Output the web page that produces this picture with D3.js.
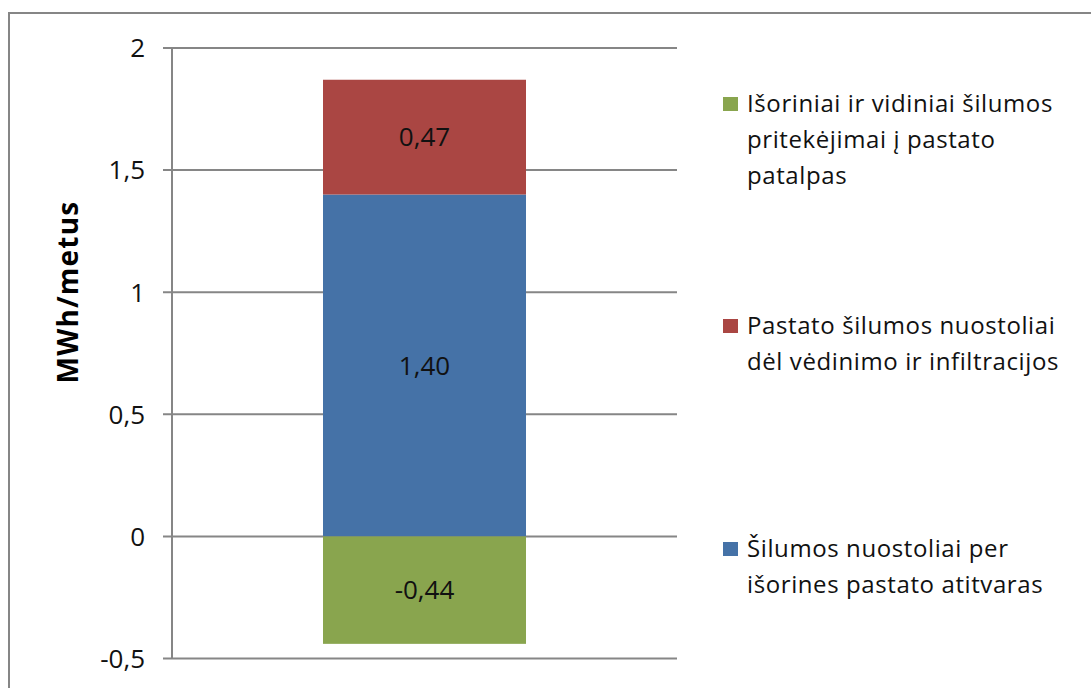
<!DOCTYPE html>
<html><head><meta charset="utf-8">
<script src="https://cdn.jsdelivr.net/npm/d3@7"></script>
<style>body{margin:0;background:#fff;} svg{display:block;font-family:"Open Sans",Lato,sans-serif;}</style>
</head><body>
<svg id="c" width="1091" height="688"></svg>
<script>
const categories = ["1"];
const seriesNames = [
  "Šilumos nuostoliai per išorines pastato atitvaras",
  "Pastato šilumos nuostoliai dėl vėdinimo ir infiltracijos",
  "Išoriniai ir vidiniai šilumos pritekėjimai į pastato patalpas"
];
const seriesValues = [1.40, 0.47, -0.44];
const seriesColors = ["#4572A7", "#AA4643", "#89A54E"];
const valueLabels = ["1,40", "0,47", "-0,44"];
const tickValues = [-0.5, 0, 0.5, 1, 1.5, 2];
const tickLabels = ["-0,5", "0", "0,5", "1", "1,5", "2"];
const legendLines = [
  ["Išoriniai ir vidiniai šilumos", "pritekėjimai į pastato", "patalpas"],
  ["Pastato šilumos nuostoliai", "dėl vėdinimo ir infiltracijos"],
  ["Šilumos nuostoliai per", "išorines pastato atitvaras"]
];
const legendColorIdx = [2, 1, 0];
const yTitle = "MWh/metus";

const svg = d3.select("#c");
const grid = "#868686";

svg.append("rect").attr("x", 9).attr("y", 13).attr("width", 1200).attr("height", 800)
  .attr("fill", "none").attr("stroke", grid).attr("stroke-width", 2);

const plotL = 172, plotR = 677, plotT = 48, plotB = 658.5;
const y = d3.scaleLinear().domain([-0.5, 2]).range([plotB, plotT]);
const x = d3.scaleBand().domain(categories).range([plotL, plotR]).paddingInner(0.6).paddingOuter(0.3);

svg.append("g").selectAll("line").data(tickValues).join("line")
  .attr("x1", plotL - 9).attr("x2", plotR)
  .attr("y1", d => y(d)).attr("y2", d => y(d))
  .attr("stroke", grid).attr("stroke-width", 2);

let posBase = 0, negBase = 0;
const stacks = seriesValues.map((v, i) => {
  let y0, y1;
  if (v >= 0) { y0 = posBase; y1 = posBase + v; posBase = y1; }
  else { y0 = negBase + v; y1 = negBase; negBase = y0; }
  return {i, v, y0, y1};
});
const bw = 203;
const bx = x(categories[0]) + x.bandwidth() / 2 - bw / 2;
svg.append("g").selectAll("rect").data(stacks).join("rect")
  .attr("x", bx).attr("width", bw)
  .attr("y", d => y(d.y1)).attr("height", d => y(d.y0) - y(d.y1))
  .attr("fill", d => seriesColors[d.i]);

svg.append("g").selectAll("text").data(stacks).join("text")
  .attr("x", bx + bw / 2).attr("y", d => (y(d.y0) + y(d.y1)) / 2)
  .attr("dy", "0.36em").attr("text-anchor", "middle")
  .attr("font-size", 26).attr("fill", "#111")
  .text(d => valueLabels[d.i]);

svg.append("line").attr("x1", plotL).attr("x2", plotL).attr("y1", plotT).attr("y2", plotB)
  .attr("stroke", grid).attr("stroke-width", 2);

svg.append("g").selectAll("text").data(tickValues).join("text")
  .attr("x", 145).attr("y", d => y(d)).attr("dy", "0.36em")
  .attr("text-anchor", "end").attr("font-size", 26).attr("fill", "#111")
  .text((d, i) => tickLabels[i]);

svg.append("text").attr("transform", "translate(78,292) rotate(-90)")
  .attr("text-anchor", "middle").attr("font-size", 28).attr("font-weight", "bold")
  .attr("letter-spacing", 1.2)
  .attr("fill", "#000").text(yTitle);

const legendTop = [112, 334, 557];
const lg = svg.append("g");
legendLines.forEach((lines, k) => {
  lg.append("rect").attr("x", 723).attr("y", legendTop[k] - 15).attr("width", 15).attr("height", 14)
    .attr("fill", seriesColors[legendColorIdx[k]]);
  lines.forEach((t, j) => {
    lg.append("text").attr("x", 747).attr("y", legendTop[k] + j * 36)
      .attr("font-size", 24).attr("letter-spacing", 0.6).attr("fill", "#111").text(t);
  });
});
</script>
</body></html>
